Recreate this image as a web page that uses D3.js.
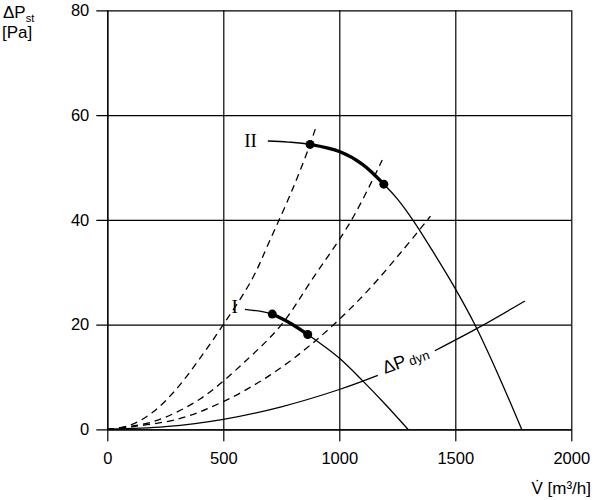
<!DOCTYPE html>
<html>
<head>
<meta charset="utf-8">
<script src="https://cdn.jsdelivr.net/npm/d3@7"></script>
<style>
  body { margin: 0; background: #fff; }
  svg { display: block; }
</style>
</head>
<body>
<div id="chart"></div>
<script>
////////////////////////////////////////////////////////////////////////
// Data (V in m³/h, P in Pa)

let xTicks = [0, 500, 1000, 1500, 2000];
let yTicks = [0, 20, 40, 60, 80];

// system curves (dashed)
let dash1V = [0, 100, 200, 300, 400, 500, 622, 700, 800, 874, 897];
let dash1P = [0, 0.8, 3.4, 7.8, 13.6, 20, 28.5, 36, 46, 54.4, 57.4];
let dash2V = [0, 200, 400, 600, 751, 881, 1052, 1185];
let dash2P = [0, 1.5, 5.8, 13.2, 20, 28.5, 39.9, 51.4];
let dash3V = [0, 300, 500, 700, 900, 1100, 1268, 1393];
let dash3P = [0, 1.9, 5.3, 10.3, 17, 25.4, 33.9, 40.7];

// fan curve II
let fan2V = [692, 780, 874, 1003, 1100, 1192, 1250, 1318, 1400, 1498, 1584, 1680, 1786];
let fan2P = [55.05, 54.85, 54.4, 53.0, 50.6, 46.8, 44.0, 39.9, 34.2, 27.0, 20.0, 10.9, 0];

// fan curve I
let fan1V = [593, 711, 787, 864, 930, 1002, 1100, 1200, 1296];
let fan1P = [22.9, 22.0, 20.3, 18.1, 16.0, 13.5, 9.3, 4.7, 0];

// dynamic pressure (null = gap for the label)
let dynV = [0, 250, 500, 750, 1000, 1166, 1290, 1412, 1600, 1800];
let dynP = [0, 0.5, 1.9, 4.3, 7.6, 10.3, null, 15.0, 19.4, 24.5];

// operating points
let pointV = [874, 1192, 711, 864];
let pointP = [54.4, 46.8, 22.0, 18.1];

////////////////////////////////////////////////////////////////////////
// Setup

let width = 600;
let height = 500;
let sansFont = "'Liberation Sans', Arial, sans-serif";
let serifFont = "'Liberation Serif', 'Times New Roman', serif";

let svg = d3.select("#chart")
  .append("svg")
  .attr("width", width).attr("height", height);

let xScale = d3.scaleLinear()
  .domain([0, 2000])
  .range([107.3, 571.3]);
let yScale = d3.scaleLinear()
  .domain([0, 80])
  .range([429.3, 10.3]);

let plotW = xScale(2000) - xScale(0);
let plotH = yScale(0) - yScale(80);

// x axis with grid lines running up
let xAxis = svg.append("g")
  .attr("transform", `translate(0, ${yScale(0)})`)
  .call(d3.axisBottom(xScale).tickValues(xTicks).tickFormat(d3.format("d"))
    .tickSize(12).tickSizeOuter(0).tickPadding(11));
xAxis.selectAll(".tick line").attr("y1", -plotH);

// y axis with grid lines running right
let yAxis = svg.append("g")
  .attr("transform", `translate(${xScale(0)}, 0)`)
  .call(d3.axisLeft(yScale).tickValues(yTicks).tickFormat(d3.format("d"))
    .tickSize(11).tickSizeOuter(0).tickPadding(7));
yAxis.selectAll(".tick line").attr("x1", plotW);

svg.selectAll(".tick line, .domain")
  .attr("stroke", "#000")
  .attr("stroke-width", 1.2);
svg.selectAll(".tick text")
  .attr("font-family", sansFont)
  .attr("font-size", 16.5)
  .attr("fill", "#000");

// axis titles
let yTitle = svg.append("text")
  .attr("x", 3).attr("y", 18)
  .attr("font-family", sansFont).attr("font-size", 17);
yTitle.append("tspan").text("ΔP");
yTitle.append("tspan").attr("font-size", 11).attr("dy", 4).text("st");
svg.append("text")
  .attr("x", 2).attr("y", 38)
  .attr("font-family", sansFont).attr("font-size", 17)
  .text("[Pa]");

svg.append("text")
  .attr("x", 591).attr("y", 494)
  .attr("text-anchor", "end")
  .attr("font-family", sansFont).attr("font-size", 17)
  .text("V\u0307 [m³/h]");

////////////////////////////////////////////////////////////////////////
// Curves

function toPoints(vs, ps) {
  return vs.map((v, i) => [v, ps[i]]);
}

let line = d3.line()
  .defined(d => d[1] !== null)
  .x(d => xScale(d[0]))
  .y(d => yScale(d[1]))
  .curve(d3.curveCatmullRom.alpha(0.5));

let curves = svg.append("g")
  .attr("fill", "none")
  .attr("stroke", "#000");

// dashed system curves
[[dash1V, dash1P], [dash2V, dash2P], [dash3V, dash3P]].forEach(c => {
  curves.append("path")
    .attr("d", line(toPoints(c[0], c[1])))
    .attr("stroke-width", 1.3)
    .attr("stroke-dasharray", "7,5");
});

// dynamic pressure
curves.append("path")
  .attr("d", line(toPoints(dynV, dynP)))
  .attr("stroke-width", 1.3);

// fan curves, thin
curves.append("path")
  .attr("d", line(toPoints(fan2V, fan2P)))
  .attr("stroke-width", 1.3);
curves.append("path")
  .attr("d", line(toPoints(fan1V, fan1P)))
  .attr("stroke-width", 1.3);

// thick part between operating points
curves.append("path")
  .attr("d", line(toPoints(fan2V.slice(2, 6), fan2P.slice(2, 6))))
  .attr("stroke-width", 3.4);
curves.append("path")
  .attr("d", line(toPoints(fan1V.slice(1, 4), fan1P.slice(1, 4))))
  .attr("stroke-width", 3.4);

// operating points
svg.append("g")
  .selectAll("circle")
  .data(toPoints(pointV, pointP))
  .enter()
  .append("circle")
  .attr("cx", d => xScale(d[0]))
  .attr("cy", d => yScale(d[1]))
  .attr("r", 4.5)
  .attr("fill", "#000");

////////////////////////////////////////////////////////////////////////
// Curve labels

svg.append("text")
  .attr("x", xScale(645)).attr("y", yScale(53.9))
  .attr("text-anchor", "end")
  .attr("font-family", serifFont).attr("font-size", 19)
  .text("II");
svg.append("text")
  .attr("x", xScale(563)).attr("y", yScale(22.2))
  .attr("text-anchor", "end")
  .attr("font-family", serifFont).attr("font-size", 19)
  .text("I");

let dynLabel = svg.append("text")
  .attr("transform", `translate(${xScale(1197)}, ${yScale(10.55)}) rotate(-20)`)
  .attr("font-family", sansFont).attr("font-size", 18);
dynLabel.append("tspan").text("ΔP");
dynLabel.append("tspan").attr("font-size", 13).attr("dx", 3).attr("dy", 1).text("dyn");
</script>
</body>
</html>
